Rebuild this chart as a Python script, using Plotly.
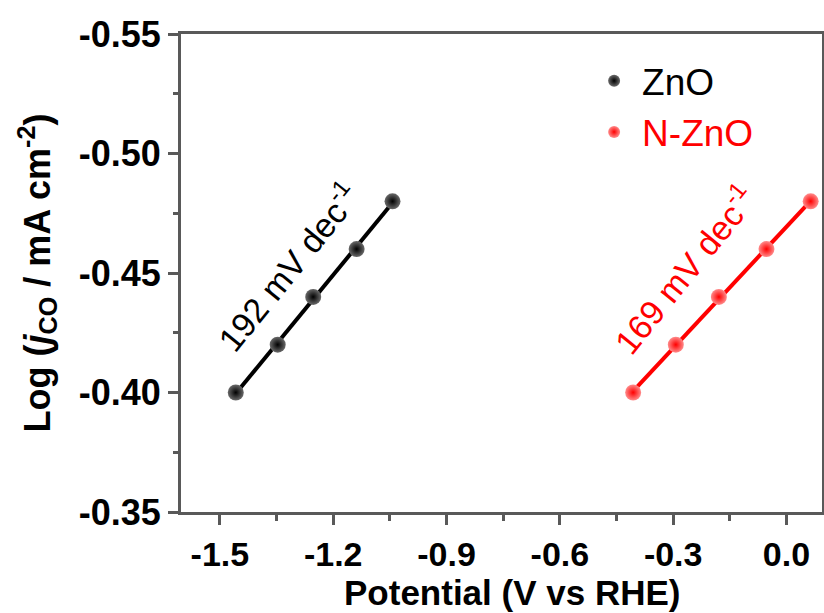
import numpy as np
import plotly.graph_objects as go

zno_x = [-1.458, -1.347, -1.253, -1.138, -1.043]
zno_y = [-0.40, -0.42, -0.44, -0.46, -0.48]
nzno_x = [-0.406, -0.293, -0.179, -0.053, 0.064]
nzno_y = [-0.40, -0.42, -0.44, -0.46, -0.48]
zno_label = "192 mV dec<sup>-1</sup>"
nzno_label = "169 mV dec<sup>-1</sup>"
x_ticks = [-1.5, -1.2, -0.9, -0.6, -0.3, 0.0]
x_ticklabels = ["-1.5", "-1.2", "-0.9", "-0.6", "-0.3", "0.0"]
y_ticks = [-0.55, -0.50, -0.45, -0.40, -0.35]
y_ticklabels = ["-0.55", "-0.50", "-0.45", "-0.40", "-0.35"]

FONT = "Liberation Sans, Arial, sans-serif"
AX = "#595959"


def fit_line(xs, ys):
    k, b = np.polyfit(xs, ys, 1)
    xx = [min(xs), max(xs)]
    return xx, [k * v + b for v in xx]


fig = go.Figure()
series = [
    ("ZnO", zno_x, zno_y, "black", "#6a6a6a", "black"),
    ("N-ZnO", nzno_x, nzno_y, "red", "#ff8c8c", "red"),
]
for name, xs, ys, col, hi, txtcol in series:
    lx, ly = fit_line(xs, ys)
    fig.add_trace(go.Scatter(x=lx, y=ly, mode="lines", showlegend=False,
                             line=dict(color=col, width=4), hoverinfo="skip"))
    fig.add_trace(go.Scatter(
        x=xs, y=ys, mode="markers",
        name=f"<span style='color:{txtcol}'>{name}</span>",
        marker=dict(size=16, color=hi, gradient=dict(type="radial", color=col),
                    line=dict(width=0)),
    ))

fig.add_annotation(x=-1.320, y=-0.453, text=zno_label, showarrow=False,
                   textangle=-51, font=dict(family=FONT, size=34, color="black"))
fig.add_annotation(x=-0.272, y=-0.452, text=nzno_label, showarrow=False,
                   textangle=-51, font=dict(family=FONT, size=34, color="red"))

# x-axis title placed as paper annotation (slightly right of centre, as in the reference)
fig.add_annotation(xref="paper", yref="paper", x=0.516, y=-0.1225, yanchor="top",
                   text="<b>Potential (V vs RHE)</b>", showarrow=False,
                   font=dict(family=FONT, size=35, color="black"))

fig.update_layout(
    width=824, height=613,
    margin=dict(l=181, r=2, t=34, b=101),
    paper_bgcolor="white", plot_bgcolor="white",
    showlegend=True,
    legend=dict(x=0.632, y=0.966, xanchor="left", yanchor="top",
                bgcolor="rgba(0,0,0,0)", font=dict(family=FONT, size=37, color="black"),
                itemsizing="constant", tracegroupgap=0, itemwidth=46),
    font=dict(family=FONT),
)
fig.update_xaxes(
    range=[-1.603, 0.094], tickvals=x_ticks, ticktext=x_ticklabels,
    showgrid=False, zeroline=False, showline=True, linecolor=AX, linewidth=3,
    mirror=True, ticks="outside", ticklen=10, tickwidth=3, tickcolor=AX,
    minor=dict(tickvals=[-1.35, -1.05, -0.75, -0.45, -0.15], ticks="outside",
               ticklen=6, tickwidth=3, tickcolor=AX),
    tickfont=dict(family=FONT, size=34, color="black", weight="bold"),
    automargin=False,
)
fig.update_yaxes(
    range=[-0.35, -0.55], tickvals=y_ticks, ticktext=y_ticklabels,
    showgrid=False, zeroline=False, showline=True, linecolor=AX, linewidth=3,
    mirror=True, ticks="outside", ticklen=10, tickwidth=3, tickcolor=AX,
    minor=dict(tickvals=[-0.525, -0.475, -0.425, -0.375], ticks="outside",
               ticklen=5, tickwidth=3, tickcolor=AX),
    tickfont=dict(family=FONT, size=36, color="black", weight="bold"),
    automargin=False,
    title=dict(text="<b>Log (<i>j</i><sub>CO</sub> / mA cm<sup>-2</sup>)</b>",
               font=dict(family=FONT, size=36, color="black"), standoff=18),
)

fig.write_html("out.html", config={"displayModeBar": False},
               post_script="document.body.style.margin='0';")
